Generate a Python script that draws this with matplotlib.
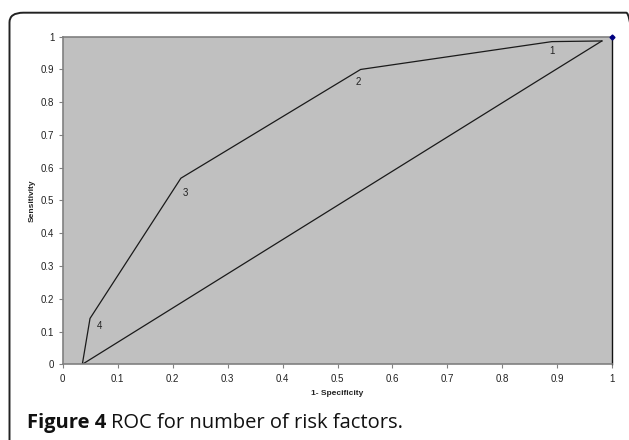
import matplotlib
matplotlib.use("Agg")
import matplotlib.pyplot as plt
from matplotlib.patches import FancyBboxPatch

# ROC curve (1-specificity, sensitivity)
roc_x = [0.0357, 0.0497, 0.215, 0.542, 0.890, 0.981]
roc_y = [0.0, 0.140, 0.568, 0.900, 0.985, 0.987]
# lower reference line
ref_x = [0.981, 0.859, 0.0357]
ref_y = [0.987, 0.860, 0.0]
# point labels (number of risk factors)
pt_labels = ["4", "3", "2", "1"]
pt_lab_x = [0.0666, 0.224, 0.538, 0.891]
pt_lab_y = [0.117, 0.522, 0.863, 0.956]
# blue marker
blue_x = [1.0]
blue_y = [1.0]
ticks = [0, 0.1, 0.2, 0.3, 0.4, 0.5, 0.6, 0.7, 0.8, 0.9, 1]
tick_labels = ["0", "0.1", "0.2", "0.3", "0.4", "0.5", "0.6", "0.7", "0.8", "0.9", "1"]

W, H = 629, 440
fig = plt.figure(figsize=(W / 100, H / 100), dpi=100)

# rounded frame
frame = FancyBboxPatch((9.5 / W, -20 / H), (640 - 9.5) / W, (H - 12.7 + 20) / H,
                       boxstyle="round,pad=0,rounding_size=0.022",
                       transform=fig.transFigure, fill=False,
                       edgecolor="#222222", linewidth=1.4, clip_on=False)
fig.patches.append(frame)

ax = fig.add_axes([62.7 / W, 75.7 / H, 549.6 / W, 327.6 / H])
ax.set_facecolor("#C0C0C0")
ax.plot(roc_x, roc_y, color="#1a1a1a", linewidth=0.9)
ax.plot(ref_x, ref_y, color="#1a1a1a", linewidth=0.9)
ax.plot(blue_x, blue_y, marker="D", color="#000080", markersize=2.5, clip_on=False, zorder=5)
for t, x, y in zip(pt_labels, pt_lab_x, pt_lab_y):
    ax.text(x, y, t, fontsize=7, family="Liberation Sans", ha="center", va="center", color="#222222")

ax.set_xlim(0, 1)
ax.set_ylim(0, 1)
ax.set_xticks(ticks)
ax.set_xticklabels(tick_labels)
ax.set_yticks(ticks)
ax.set_yticklabels(tick_labels)
ax.tick_params(axis="both", direction="out", length=3, width=0.8, color="#808080",
               labelsize=7, labelcolor="#222222", pad=3)
ax.tick_params(axis="x", pad=4)
for lab in ax.get_xticklabels() + ax.get_yticklabels():
    lab.set_family("Liberation Sans")
for s in ["left", "bottom", "top"]:
    ax.spines[s].set_color("#808080")
    ax.spines[s].set_linewidth(1.2)
ax.spines["right"].set_color("#111111")
ax.spines["right"].set_linewidth(1.0)

ax.set_xlabel("1- Specificity", fontsize=6, fontweight="bold", family="Liberation Sans",
              labelpad=4, color="#222222")
ax.set_ylabel("Sensitivity", fontsize=6, fontweight="bold", family="Liberation Sans",
              labelpad=4, color="#222222")

t1 = fig.text(27 / W, 1 - 423 / H, "Figure 4", fontsize=14.5, fontweight="bold",
              family="Open Sans", va="center", ha="left", color="#111111")
fig.canvas.draw()
bb = t1.get_window_extent(renderer=fig.canvas.get_renderer())
fig.text((bb.x1 + 5) / W, 1 - 423 / H, "ROC for number of risk factors.", fontsize=14.5,
         family="Open Sans", va="center", ha="left", color="#111111")

fig.savefig("out.png", dpi=100)
